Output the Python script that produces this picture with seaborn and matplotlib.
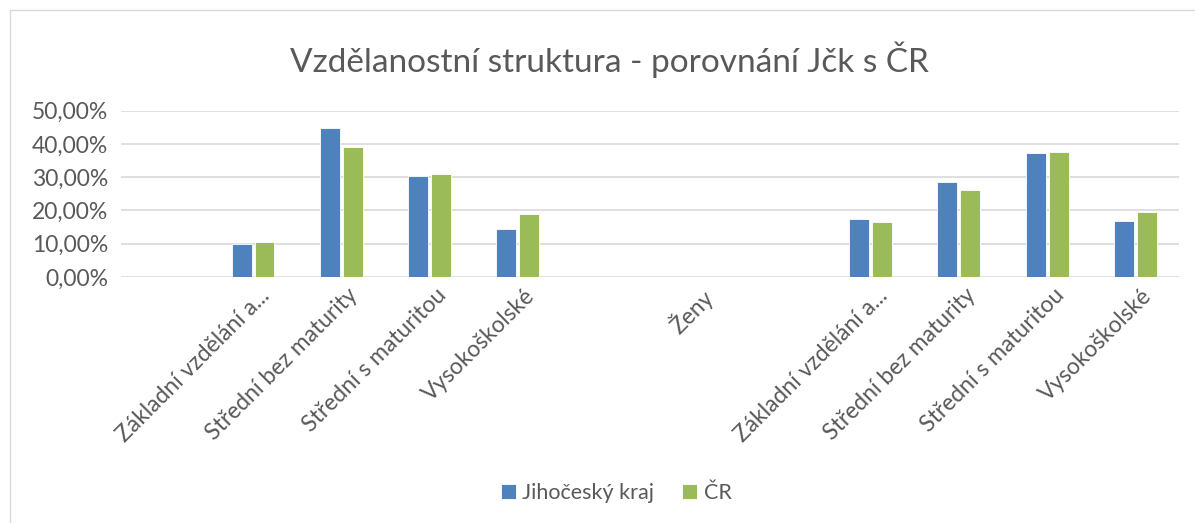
import numpy as np
import pandas as pd
import matplotlib.pyplot as plt
import seaborn as sns
from matplotlib.patches import Rectangle
from matplotlib.ticker import FuncFormatter
from matplotlib.transforms import ScaledTranslation

# categories (empty labels are spacer slots in the original sheet)
categories = ['', 'Základní vzdělání a...', 'Střední bez maturity', 'Střední s maturitou', 'Vysokoškolské',
              ' ', 'Ženy', '  ',
              'Základní vzdělání a... ', 'Střední bez maturity ', 'Střední s maturitou ', 'Vysokoškolské ']
jck = [np.nan, 0.099, 0.447, 0.305, 0.144, np.nan, np.nan, np.nan, 0.173, 0.285, 0.372, 0.167]
cr = [np.nan, 0.104, 0.391, 0.310, 0.190, np.nan, np.nan, np.nan, 0.166, 0.261, 0.375, 0.195]
series = ['Jihočeský kraj', 'ČR']
colors = ['#4F81BD', '#9BBB59']

df = pd.DataFrame({
    'cat': categories * 2,
    'val': jck + cr,
    'serie': [series[0]] * len(categories) + [series[1]] * len(categories),
})

sns.set_style('white')
plt.rcParams['font.family'] = ['Lato', 'DejaVu Sans']
txt = '#595959'

fig = plt.figure(figsize=(11.95, 5.23), dpi=100)
ax = fig.add_axes([0.101, 0.4704, 0.886, 0.318])

sns.barplot(data=df, x='cat', y='val', hue='serie', order=categories, hue_order=series,
            palette=colors, width=0.52, gap=0.13, ax=ax, legend=True, saturation=1,
            edgecolor='white', linewidth=0.6)

ax.set_ylim(0, 0.5)
ax.set_xlim(-0.5, len(categories) - 0.5)
ax.set_yticks(np.arange(0, 0.51, 0.1))
ax.yaxis.set_major_formatter(FuncFormatter(lambda v, p: f'{v*100:.2f}%'.replace('.', ',')))
ax.grid(axis='y', color='#D9D9D9', linewidth=1.2)
ax.set_axisbelow(True)
for s in ax.spines.values():
    s.set_visible(False)
ax.tick_params(axis='both', length=0, colors=txt, labelsize=16.5)
ax.tick_params(axis='y', pad=9)
ax.set_xlabel('')
ax.set_ylabel('')
ax.set_xticks(range(len(categories)))
ax.set_xticklabels([c.strip() for c in categories], rotation=45, ha='right',
                   rotation_mode='anchor', color=txt, fontsize=16.5)
for lab in ax.get_xticklabels():
    lab.set_transform(lab.get_transform() + ScaledTranslation(0.06, -0.03, fig.dpi_scale_trans))

handles, labels = ax.get_legend_handles_labels()
ax.legend_.remove()
fig.legend(handles, labels, loc='center', bbox_to_anchor=(616 / 1195, 1 - 493 / 523), ncol=2,
           frameon=False, fontsize=15.5, labelcolor=txt, handlelength=0.7, handleheight=0.7,
           handletextpad=0.3, columnspacing=1.3)

fig.suptitle('Vzdělanostní struktura - porovnání Jčk s ČR', x=0.51, y=1 - 60 / 523, va='center',
             fontsize=24, color=txt)

fig.patches.append(Rectangle((10 / 1195, -0.01), 1.2, 1 - 10 / 523 + 0.01, transform=fig.transFigure,
                             fill=False, edgecolor='#D9D9D9', linewidth=1))

fig.savefig('out.png', dpi=100, facecolor='white')
